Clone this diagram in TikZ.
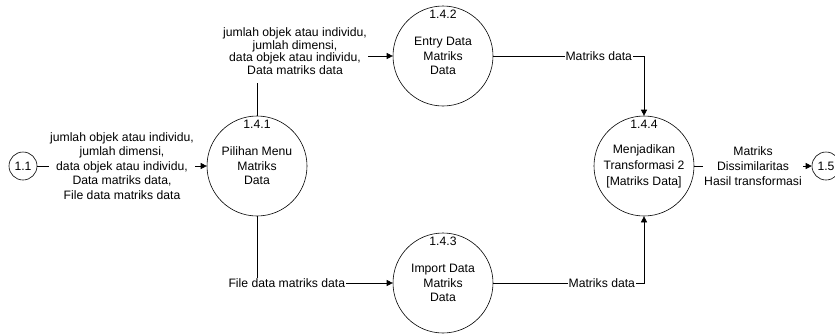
\documentclass[tikz,border=0pt]{standalone}
\usepackage{fontspec}
\setmainfont{Liberation Sans}
\usetikzlibrary{arrows.meta}

\tikzset{
  proc/.style={circle, draw, minimum size=100pt, inner sep=0pt, align=center},
  ext/.style={circle, draw, minimum size=28pt, inner sep=0pt},
  num/.style={anchor=north, yshift=-1pt},
  flow/.style={-{Triangle[length=6pt,width=6pt]}},
  lbl/.style={fill=white, inner sep=1pt, align=center},
}

\begin{document}
\begin{tikzpicture}[x=1pt, y=-1pt, line width=0.6pt, font=\fontsize{12.2}{14.5}\selectfont]
  \useasboundingbox (0,0) rectangle (835,333);
  \node[ext] (e11) at (23,166) {1.1};
  \node[ext] (e15) at (826,166) {1.5};
  \node[proc, label={[num]90:1.4.1}] (p141) at (257,166) {Pilihan Menu\\Matriks\\Data};
  \node[proc, label={[num]90:1.4.2}] (p142) at (443,56) {Entry Data\\Matriks\\Data};
  \node[proc, label={[num]90:1.4.3}] (p143) at (443,283) {Import Data\\Matriks\\Data};
  \node[proc, label={[num]90:1.4.4}, font=\fontsize{12.2}{16}\selectfont] (p144) at (644,166)
    {Menjadikan\\Transformasi 2\\{[Matriks Data]}};
  \draw[flow] (e11) -- node[lbl] {jumlah objek atau individu,\\jumlah dimensi,\\data objek atau individu,\\Data matriks data,\\File data matriks data} (p141);
  \draw[flow] (p141.north) |- node[lbl, pos=0.64, yshift=5pt, inner ysep=9pt, font=\fontsize{12.2}{12.5}\selectfont]
    {jumlah objek atau individu,\\jumlah dimensi,\\data objek atau individu,\\Data matriks data} (p142.west);
  \draw[flow] (p141.south) |- node[lbl, pos=0.61] {File data matriks data} (p143.west);
  \draw[flow] (p142.east) -| node[lbl, pos=0.35] {Matriks data} (p144.north);
  \draw[flow] (p143.east) -| node[lbl, pos=0.36] {Matriks data} (p144.south);
  \draw[flow] (p144) -- node[lbl, font=\fontsize{12.2}{15}\selectfont] {Matriks\\Dissimilaritas\\Hasil transformasi} (e15);
\end{tikzpicture}
\end{document}
